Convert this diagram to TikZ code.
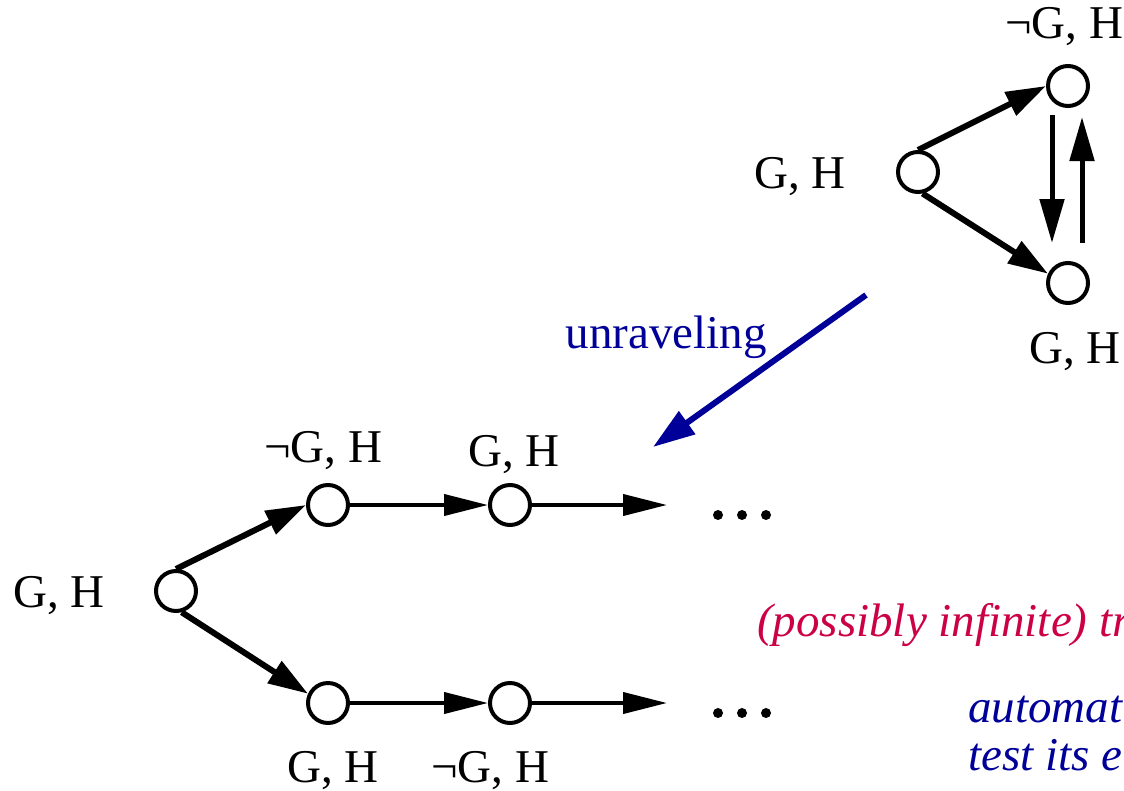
\documentclass[tikz,border=0pt]{standalone}
\usepackage{fontspec}
\setmainfont{Liberation Serif}
\usetikzlibrary{arrows.meta}
\definecolor{navy}{RGB}{0,0,153}
\definecolor{crim}{RGB}{204,0,68}
\begin{document}
\begin{tikzpicture}[x=1pt,y=-1pt,
  st/.style={circle,draw,line width=4pt,minimum size=40pt,inner sep=0pt},
  lbl/.style={anchor=base,inner sep=0pt,font=\fontsize{47}{56}\selectfont},
  ital/.style={anchor=base west,inner sep=0pt,font=\fontsize{47}{56}\selectfont\itshape},
  diag/.style={line width=6pt,-{Triangle[length=40pt,width=25pt]}},
  hor/.style={line width=4pt,-{Triangle[length=44pt,width=21pt]}},
  vert/.style={line width=5pt,-{Triangle[length=44pt,width=24pt]}},
  unrav/.style={navy,line width=6pt,-{Triangle[length=42pt,width=27pt]}},
  dotnode/.style={circle,fill,inner sep=0pt,minimum size=10pt}]
\useasboundingbox (0,0) rectangle (1124,790);
\clip (0,0) rectangle (1124,790);
% top-right graph
\node[st] (A) at (918,172) {};
\node[st] (B) at (1068,86) {};
\node[st] (C) at (1068,283) {};
\node[lbl] (lB) at (1064,38) {¬G, H};
\node[lbl] (lA) at (800,188) {G, H};
\node[lbl] (lC) at (1075,363) {G, H};
\draw[diag] (A.north) -- (B.west);
\draw[diag] (A.-78) -- (C.155);
\draw[vert] ([xshift=-16pt,yshift=-7pt]B.south) -- ([xshift=-16pt,yshift=18pt]C.north);
\draw[vert] ([xshift=14pt,yshift=18pt]C.north) -- ([xshift=14pt,yshift=-9pt]B.south);
% unraveling arrow
\coordinate (u1) at (866,295);
\coordinate (u2) at (653,447);
\draw[unrav] (u1) -- (u2);
\node[lbl,navy] (unr) at (666,348) {unraveling};
% tree
\node[st] (R) at (176,591) {};
\node[st] (N1) at (328,505) {};
\node[st] (N2) at (510,505) {};
\node[st] (N3) at (328,703) {};
\node[st] (N4) at (510,703) {};
\coordinate (e1) at (667,505);
\coordinate (e2) at (667,703);
\node[lbl] (lR) at (59,607) {G, H};
\node[lbl] (l1) at (323,462) {¬G, H};
\node[lbl] (l2) at (514,466) {G, H};
\node[lbl] (l3) at (333,782) {G, H};
\node[lbl] (l4) at (490,782) {¬G, H};
\draw[diag] (R.north) -- (N1.west);
\draw[diag] (R.-75) -- (N3.155);
\draw[hor] (N1) -- (N2);
\draw[hor] (N2) -- (e1);
\draw[hor] (N3) -- (N4);
\draw[hor] (N4) -- (e2);
\node[dotnode] (d1) at (718,515) {};
\node[dotnode] (d2) at (742,515) {};
\node[dotnode] (d3) at (766,515) {};
\node[dotnode] (d4) at (718,713) {};
\node[dotnode] (d5) at (742,713) {};
\node[dotnode] (d6) at (766,713) {};
% side texts
\node[ital,crim] (t1) at (757,636) {(possibly infinite) tr};
\node[ital,navy] (t2) at (968,722) {automat};
\node[ital,navy] (t3) at (968,770) {test its e};
\end{tikzpicture}
\end{document}
